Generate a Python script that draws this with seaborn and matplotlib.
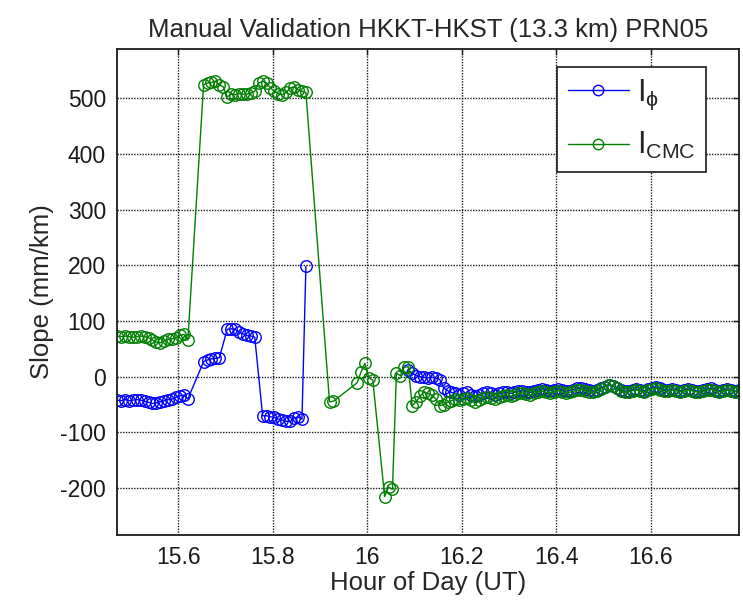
import numpy as np
import pandas as pd
import matplotlib
matplotlib.use('Agg')
import matplotlib.pyplot as plt
from matplotlib.lines import Line2D
from matplotlib.ticker import FormatStrFormatter
import seaborn as sns

# epochs are minutes after 15:00 UT (30 s sampling), values in mm/km
seg1_min = [28.2, 28.7, 29.2, 29.7, 30.2, 30.7, 31.2, 31.7, 32.2, 32.7,
            33.2, 33.7, 34.2, 34.7, 35.2, 35.7, 36.2, 36.7, 37.2]
tail_min = [65.7, 66.2, 66.7, 67.2, 67.7, 68.2, 68.7, 69.2, 69.7,
            70.2, 70.7, 71.2, 71.7, 72.2, 72.7, 73.2, 73.7, 74.2, 74.7,
            75.2, 75.7, 76.2, 76.7, 77.2, 77.7, 78.2, 78.7, 79.2, 79.7,
            80.2, 80.7, 81.2, 81.7, 82.2, 82.7, 83.2, 83.7, 84.2, 84.7,
            85.2, 85.7, 86.2, 86.7, 87.2, 87.7, 88.2, 88.7, 89.2, 89.7,
            90.2, 90.7, 91.2, 91.7, 92.2, 92.7, 93.2, 93.7, 94.2, 94.7,
            95.2, 95.7, 96.2, 96.7, 97.2, 97.7, 98.2, 98.7, 99.2, 99.7,
            100.2, 100.7, 101.2, 101.7, 102.2, 102.7, 103.2, 103.7, 104.2, 104.7,
            105.2, 105.7, 106.2, 106.7, 107.2]

# I_phi  (NaN = data break, line not drawn across it)
phi_min = (seg1_min
           + [39.2, 39.7, 40.2, 40.7, 41.2]
           + [42.2, 42.7, 43.2, 43.7, 44.2, 44.7, 45.2, 45.7]
           + [46.7, 47.2, 47.7, 48.2, 48.7, 49.2, 49.7, 50.2, 50.7, 51.2, 51.7, 52.2]
           + [58.0]
           + [65.2] + tail_min)
phi_val = ([-42, -43, -41, -43, -42, -41, -42, -44, -46, -48,
            -47, -45, -43, -41, -40, -37, -34, -33, -40]
           + [27, 30, 32, 33, 34]
           + [85, 86, 85, 80, 77, 74, 73, 71]
           + [-70, -70, -72, -73, -76, -78, -80, -80, -74, -72, -76, 198]
           + [np.nan]
           + [12, 6, 2, 0, -1, -2, -1, -3, -5, -20,
              -25, -28, -30, -32, -30, -28, -32, -35, -33, -30,
              -28, -30, -32, -30, -27, -28, -30, -28, -26, -25,
              -27, -28, -26, -24, -22, -24, -25, -23, -22, -24,
              -26, -25, -23, -21, -20, -22, -24, -26, -23, -20,
              -18, -15, -17, -20, -24, -26, -25, -23, -22, -24,
              -25, -22, -20, -19, -21, -23, -24, -22, -23, -25,
              -24, -22, -23, -25, -26, -24, -22, -21, -23, -25,
              -24, -22, -24, -26, -24])

# I_CMC
cmc_min = (seg1_min
           + [39.2, 39.7, 40.2, 40.7, 41.2, 41.7, 42.2, 42.7, 43.2, 43.7,
              44.2, 44.7, 45.2, 45.7, 46.2, 46.7, 47.2, 47.7, 48.2, 48.7,
              49.2, 49.7, 50.2, 50.7, 51.2, 51.7, 52.2]
           + [55.2, 55.7]
           + [58.7, 59.2, 59.7, 60.2, 60.7]
           + [62.2, 62.7, 63.2]
           + [63.7, 64.2, 64.7, 65.2]
           + tail_min)
cmc_val = ([73, 72, 73, 72, 71, 72, 73, 72, 70, 66,
            62, 61, 64, 67, 68, 70, 74, 76, 66]
           + [524, 527, 528, 530, 524, 520, 502, 507, 506, 508,
              507, 507, 509, 512, 527, 530, 527, 518, 512, 508,
              506, 510, 518, 520, 515, 512, 510]
           + [-45, -44]
           + [-11, 8, 24, -2, -6]
           + [-215, -198, -202]
           + [6, 2, 17, 18]
           + [-52, -45, -35, -27, -30, -33, -40, -52, -50,
              -46, -43, -40, -42, -40, -38, -42, -45, -42, -38,
              -36, -38, -40, -37, -34, -33, -35, -33, -30, -29,
              -31, -33, -30, -27, -26, -28, -29, -27, -25, -27,
              -29, -28, -26, -24, -23, -25, -27, -28, -25, -22,
              -18, -14, -16, -21, -26, -28, -27, -25, -24, -26,
              -27, -24, -22, -21, -23, -25, -26, -24, -25, -27,
              -26, -24, -25, -27, -28, -26, -24, -23, -25, -27,
              -26, -24, -25, -27, -25])

series_names = ['I$_\\phi$', 'I$_{\\mathrm{CMC}}$']
series_colors = ['#0000ff', '#008000']


def to_frame(minutes, values):
    df = pd.DataFrame({'hour': 15 + np.array(minutes) / 60.0, 'slope': values})
    df['seg'] = df['slope'].isna().cumsum()
    return df.dropna()


sns.set_theme(style='white')
plt.rcParams['font.family'] = ['Liberation Sans', 'DejaVu Sans']
plt.rcParams['mathtext.fontset'] = 'custom'
plt.rcParams['mathtext.rm'] = 'Liberation Sans'
plt.rcParams['mathtext.it'] = 'Liberation Sans'

fig = plt.figure(figsize=(7.43, 6.05), dpi=100)
ax = fig.add_axes([0.1575, 0.1157, 0.837, 0.8033])

for (mins, vals), col in zip([(phi_min, phi_val), (cmc_min, cmc_val)], series_colors):
    d = to_frame(mins, vals)
    sns.lineplot(data=d, x='hour', y='slope', units='seg', estimator=None, sort=False,
                 color=col, linewidth=1.0, marker='o', markersize=8.3,
                 markerfacecolor='none', markeredgecolor=col, markeredgewidth=1.0,
                 legend=False, ax=ax)

ax.set_xlim(15.47, 16.787)
ax.set_ylim(-284, 588)
ax.set_xticks([15.6, 15.8, 16.0, 16.2, 16.4, 16.6])
ax.set_yticks([-200, -100, 0, 100, 200, 300, 400, 500])
ax.xaxis.set_major_formatter(FormatStrFormatter('%g'))
ax.yaxis.set_major_formatter(FormatStrFormatter('%g'))
ax.grid(True, color='k', linestyle=(0, (1, 1)), linewidth=1.0)
ax.tick_params(direction='in', top=True, right=True, length=4, width=1,
               labelsize=16.5, colors='k', pad=8)
for s in ax.spines.values():
    s.set_color('k')
    s.set_linewidth(1.3)

ax.set_xlabel('Hour of Day (UT)', fontsize=18.5, labelpad=1)
ax.set_ylabel('Slope (mm/km)', fontsize=18.5, labelpad=4)
ax.set_title('Manual Validation HKKT-HKST (13.3 km) PRN05', fontsize=18.5, pad=9)

handles = [Line2D([], [], color=c, lw=1.0, marker='o', markersize=7.5,
                  markerfacecolor='none', markeredgecolor=c) for c in series_colors]
leg = ax.legend(handles, series_names, loc='upper right', bbox_to_anchor=(0.947, 0.963),
                fontsize=22, frameon=True, fancybox=False, framealpha=1,
                edgecolor='k', borderaxespad=0, handlelength=2.0, handletextpad=0.25,
                labelspacing=0.6, borderpad=0.35)
leg.get_frame().set_linewidth(1.2)

fig.savefig('out.png', dpi=100)
